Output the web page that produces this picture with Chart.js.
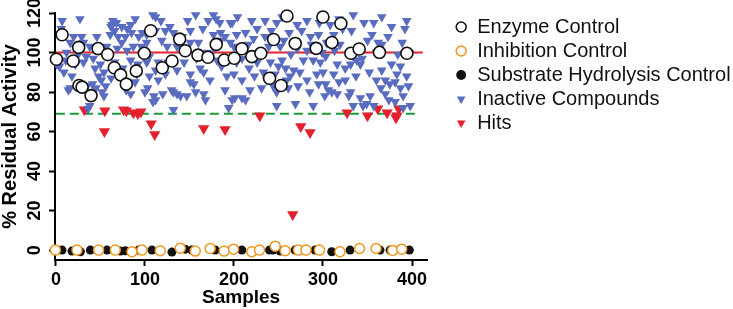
<!DOCTYPE html>
<html>
<head>
<meta charset="utf-8">
<script src="https://cdn.jsdelivr.net/npm/chart.js@4.4.1/dist/chart.umd.min.js"></script>
<style>
  html, body { margin: 0; padding: 0; background: #fff; }
  #wrap { width: 733px; height: 309px; }
</style>
</head>
<body>
<div id="wrap"><canvas id="grafico" width="733" height="309"></canvas></div>
<script>
// valores (x = muestra, y = % actividad residual)
const seriesLabels = ['Enzyme Control', 'Inhibition Control', 'Substrate Hydrolysis Control', 'Inactive Compounds', 'Hits'];
const xTicks = [0, 100, 200, 300, 400];
const yTicks = [0, 20, 40, 60, 80, 100, 120];

const enzymeControl = [
  [0.6,96.6],[7,109],[19.4,95.7],[25.6,102.6],[26,83.3],[29.4,82.5],[39.5,78.2],[47.4,102],
  [58.1,99],[65.6,92.3],[72.7,88.7],[79.1,84],[90.3,90.7],[99.3,99.6],[106.5,111],[119.5,92.3],
  [130.4,95.7],[139,106.8],[145.3,100.9],[159.6,98.7],[170.8,97.6],[180.1,104.1],[189.1,96.2],
  [200.3,97.1],[208.9,101.9],[220.1,97.9],[230.2,99.6],[240,87],[244.5,106.6],[252.9,83.3],
  [259.5,118.5],[268.8,104.6],[292.4,102.1],[299.9,118],[310,105.1],[320.1,114.7],[331.3,99.6],
  [340.6,101.8],[363.4,100.1],[394.2,99.6]
];

const inhibitionControl = [
  [-0.6,0],[23.7,0],[48,0],[66.7,0],[85.4,-0.8],[96.7,0],[117.2,-0.3],[139.7,1],[156.5,-0.5],
  [173.3,0.8],[189,-0.5],[199.5,0.5],[220,-0.8],[228.7,0],[246.3,2],[257.5,-0.3],[272.4,0],
  [281,0],[296,0],[319,-0.8],[341,0.8],[359.6,0.8],[378.3,-0.2],[388.4,0.5]
];

const substrateControl = [
  [6.9,0],[18.1,-0.5],[27.5,-0.8],[38.7,0],[57.4,0],[72.3,-0.5],[78,-0.3],[92.9,0],[107.9,0],
  [130.3,-1],[145.3,0.5],[152.8,0],[179,0],[208.9,0],[239.9,0],[244,0],[251.9,-0.5],[268.7,0],
  [291.1,0],[309.8,-0.8],[330.4,0],[364,0],[375.3,0],[397,0]
];

const inactiveCompounds = [
  [7,116],[27,117],[64,116],[62,113],[66,111],[74,113],[84,114],[89,117],[61,109],[70,108],
  [78,108],[85,110],[93,108],[20,108],[29,108],[16,105],[31,105],[38,103],[22,102],[1,94],
  [11,96],[9,90],[22,94],[31,95],[42,97],[57,103],[69,102],[74,105],[80,101],[87,103],
  [50,94],[54,90],[48,88],[51,86],[56,83],[62,87],[84,96],[92,94],[89,85],[84,79],
  [79,81],[16,82],[35,83],[41,84],[45,82],[38,73],[36,71.5],[52,80],[54,78],[91,89],
  [58,98],[48,101],[4,93],[14,81],[34,98],[46,108],[63,114],[68,115],[80,112],[96,103],
  [102,95],[12,100],[25,99],[44,92],[75,92],[97,110],[100,80],[6,112],[18,88],[66,95],
  [112,118],[148,116],[204,118],[254,118],[318,117],[377,113],
  [109,119],[157,119],[177,119],[180,117],[171,116],[184,115],[196,115],[102,109],[112,111],[123,111],
  [132,110],[151,111],[119,106],[125,103],[136,103],[151,105],[160,105],[185,110],[190,108],[196,105],
  [185,106],[177,109],[102,105],[105,98],[115,95],[112,91],[105,88],[115,86],[123,89],[136,91],
  [151,89],[162,92],[166,90],[173,86],[151,85],[155,84],[157,80],[147,78],[130,81],[132,80],
  [136,79],[140,78],[110,78],[112,76],[109,75],[132,71],[166,79],[168,76],[190,81],[194,72],
  [198,76],[181,96],[194,96],[186,93],[118,116],[128,113],[142,108],[146,100],[165,112],[170,100],
  [144,95],[126,95],[158,97],[178,102],[192,88],[103,82],[120,79],
  [198,115],[220,116],[235,116],[248,115],[271,114],[282,116],[296,115],[203,109],[213,110],[222,107],
  [235,108],[276,111],[286,108],[295,109],[200,103],[216,104],[239,103],[252,103],[271,102],[282,101],
  [299,100],[203,95],[209,97],[226,95],[241,95],[254,96],[258,92],[267,91],[278,96],[289,96],
  [297,95],[200,89],[209,86],[233,90],[246,89],[259,86],[263,88],[274,90],[282,86],[293,89],
  [295,84],[218,81],[231,82],[244,83],[248,80],[261,82],[201,77],[209,77],[213,76],[248,73],
  [269,74],[289,73],[302,78],[226,112],[242,111],[262,110],[256,106],[229,100],[264,99],[287,104],
  [217,92],[237,86],[250,93],[272,83],[285,80],[300,90],[223,88],
  [334,119],[366,118],[394,116],[392,112],[346,115],[357,115],[332,111],[355,109],[312,109],[304,105],
  [319,104],[362,105],[366,104],[389,105],[334,98],[344,97],[338,96],[342,94],[303,98],[316,94],
  [325,92],[331,94],[366,91],[377,94],[387,93],[370,86],[375,84],[381,85],[387,82],[396,83],
  [312,89],[318,85],[303,84],[306,81],[310,80],[316,79],[325,86],[331,80],[342,77],[353,78],
  [349,74],[357,73],[370,79],[374,76],[381,75],[390,78],[390,72],[398,73],[329,78],[334,73],
  [345,73],[308,114],[322,112],[350,106],[360,100],[373,108],[384,99],[397,100],[313,101],[352,90],
  [360,86],[383,89],[337,88],[394,88],[365,82]
];

const hits = [
  [32,71],[55,70.5],[54.5,60],[76,71],[79,70.5],[87,69.5],[92,69],[95.5,70],[107,64],[111,58.5],
  [166,61.5],[190,61],[229,68],[266,18],[275,62.5],[285.5,59.5],[327,69.5],[350,68],[361.5,71.5],
  [372,69.5],[383,68],[385,71.5],[382,67]
];

// lineas de referencia
const enzymeMeanLine = [[0,100],[412,100]];
const hitCutoffLine = [[0,69],[407,69]];

const fontFam = "'Liberation Sans', Arial, Helvetica, sans-serif";
Chart.defaults.font.family = fontFam;
Chart.defaults.color = '#000';

const ctx = document.getElementById('grafico').getContext('2d');
const grafico = new Chart(ctx, {
  type: 'scatter',
  data: {
    datasets: [
      { label: seriesLabels[0], data: enzymeControl, order: 1, clip: false,
        pointStyle: 'circle', pointRadius: 6, pointBorderWidth: 1.6,
        pointBorderColor: '#111', pointBackgroundColor: '#fff',
        borderColor: '#111', backgroundColor: '#fff' },
      { label: seriesLabels[1], data: inhibitionControl, order: 2, clip: false,
        pointStyle: 'circle', pointRadius: 5, pointBorderWidth: 1.5,
        pointBorderColor: '#f0961e', pointBackgroundColor: '#fff',
        borderColor: '#f0961e', backgroundColor: '#fff' },
      { label: seriesLabels[2], data: substrateControl, order: 3, clip: false,
        pointStyle: 'circle', pointRadius: 4.5, pointBorderWidth: 0,
        pointBackgroundColor: '#111', backgroundColor: '#111', borderColor: '#111' },
      { label: seriesLabels[3], data: inactiveCompounds, order: 4, clip: false,
        pointStyle: 'triangle', pointRotation: 180, pointRadius: 5.6, pointBorderWidth: 0,
        pointBackgroundColor: '#5a6cc0', backgroundColor: '#5a6cc0', borderColor: '#5a6cc0' },
      { label: seriesLabels[4], data: hits, order: 5, clip: false,
        pointStyle: 'triangle', pointRotation: 180, pointRadius: 6.5, pointBorderWidth: 0,
        pointBackgroundColor: '#e3212d', backgroundColor: '#e3212d', borderColor: '#e3212d' },
      { label: '', data: enzymeMeanLine, order: 6, showLine: true, pointRadius: 0,
        borderColor: '#e8202a', borderWidth: 2 },
      { label: '', data: hitCutoffLine, order: 7, showLine: true, pointRadius: 0,
        borderColor: '#1a9a3a', borderWidth: 2, borderDash: [9, 5] }
    ]
  },
  options: {
    responsive: false,
    animation: false,
    devicePixelRatio: 1,
    layout: { padding: { top: 13, right: -7.6, bottom: 0, left: 0 } },
    plugins: {
      tooltip: { enabled: false },
      legend: {
        position: 'right',
        align: 'start',
        maxWidth: 320,
        labels: {
          usePointStyle: true,
          boxWidth: 12,
          boxHeight: 7,
          padding: 4,
          color: '#111',
          font: { size: 20, family: fontFam },
          filter: item => seriesLabels.includes(item.text)
        }
      }
    },
    scales: {
      x: {
        type: 'linear',
        min: -1,
        max: 417,
        afterBuildTicks: s => { s.ticks = xTicks.map(v => ({ value: v })); },
        afterFit: s => { s.height = 49; s.paddingLeft = 0; s.paddingRight = 0; },
        border: { display: true, color: '#000', width: 2 },
        grid: { display: true, drawOnChartArea: false, drawTicks: true, tickLength: 6, tickColor: '#000', tickWidth: 2 },
        ticks: { padding: 3, color: '#000', font: { size: 18, weight: 'bold' } },
        title: { display: true, text: 'Samples', color: '#000', padding: { top: 0, bottom: 0 },
                 font: { size: 19, weight: 'bold' } }
      },
      y: {
        type: 'linear',
        min: -5,
        max: 120,
        afterBuildTicks: s => { s.ticks = yTicks.map(v => ({ value: v })); },
        afterFit: s => { s.width = 55; s.paddingTop = 0; s.paddingBottom = 0; },
        border: { display: true, color: '#000', width: 2 },
        grid: { display: true, drawOnChartArea: false, drawTicks: true, tickLength: 6, tickColor: '#000', tickWidth: 2 },
        ticks: { padding: -1, minRotation: 90, maxRotation: 90, crossAlign: 'center',
                 color: '#000', font: { size: 18, weight: 'bold' } },
        title: { display: true, text: '% Residual Activity', color: '#000', padding: { top: -1.5, bottom: 0 },
                 font: { size: 20, weight: 'bold' } }
      },
      // eje vacio: solo deja hueco entre el grafico y la leyenda
      ySep: {
        type: 'linear',
        position: 'right',
        display: true,
        afterFit: s => { s.width = 24; s.paddingTop = 0; s.paddingBottom = 0; },
        border: { display: false },
        grid: { display: false },
        ticks: { display: false }
      }
    }
  }
});
</script>
</body>
</html>
